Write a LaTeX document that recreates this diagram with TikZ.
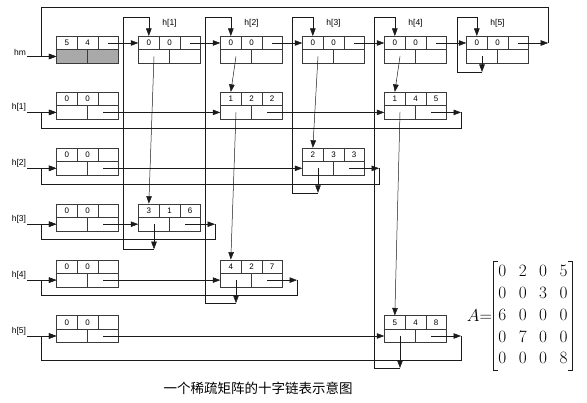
\documentclass[tikz,border=0pt]{standalone}
\usepackage{amsmath}
\usepackage{fontspec}
\setmainfont{Liberation Serif}
\setsansfont{Liberation Sans}
\newfontfamily\cjk{Noto Sans CJK SC}
\usepackage{tikz}
\usetikzlibrary{arrows.meta, calc, backgrounds}

\definecolor{linkline}{HTML}{1a1a1a}
\definecolor{boxline}{HTML}{3a3a3a}
\definecolor{hmshade}{HTML}{a9a9a9}

% one record of the orthogonal list: name, x, y, three upper fields
\newcommand\olnode[6]{%
  \node[rec] (#1) at (#2,#3) {};
  \draw[recline] (#1.west) -- (#1.east);
  \draw[recline] ($(#1.north west)+(\fieldW,0)$) -- ($(#1.west)+(\fieldW,0)$);
  \draw[recline] ($(#1.north east)+(-\fieldW,0)$) -- ($(#1.east)+(-\fieldW,0)$);
  \draw[recline] (#1.center) -- (#1.south);
  \node[field] at ($(#1.center)+(-\fieldW,-\rowHalf)$) {#4};
  \node[field] at ($(#1.center)+(0,-\rowHalf)$)        {#5};
  \node[field] at ($(#1.center)+(\fieldW,-\rowHalf)$)  {#6};
  \coordinate (#1-in) at ($(#1.north)+(-\fieldW,0)$);
  \coordinate (#1-dn) at ($(#1.center)+(-\halfW,\rowHalf)$);
  \coordinate (#1-rt) at ($(#1.center)+(\halfW,\rowHalf)$);
  \coordinate (#1-nx) at ($(#1.center)+(\fieldW,-\rowHalf)$);
  \coordinate (#1-lt) at ($(#1.west)+(0,-\rowHalf)$);
  \coordinate (#1-lb) at ($(#1.west)+(0,\rowHalf)$);
}

\begin{document}
\begin{tikzpicture}[
    x=1pt, y=-1pt,
    rec/.style={
        rectangle, draw=boxline, line width=0.5pt,
        minimum width=62pt, minimum height=27pt, inner sep=0pt,
    },
    recline/.style={draw=boxline, line width=0.5pt},
    field/.style={inner sep=0pt, font=\fontsize{8}{9}\selectfont\sffamily},
    lbl/.style={inner sep=1pt, font=\fontsize{8.5}{10}\selectfont\sffamily},
    ptr/.style={
        draw=linkline, line width=0.5pt,
        -{Triangle[length=7.5pt,width=5.5pt]},
    },
    matfont/.style={font=\fontsize{17}{21.7}\selectfont},
    bracket/.style={draw=linkline, line width=0.8pt},
    caption/.style={inner sep=0pt, font=\fontsize{13.5}{15}\selectfont\cjk},
]
\useasboundingbox (0,0) rectangle (587,403);

% ── Grid of the records ─────────────────────────────────────────────────────
\def\colX{87.5}
\def\colW{82}
\def\rowY{49.75}
\def\rowH{55.9}
\def\fieldW{20.67}
\def\halfW{15.5}
\def\rowHalf{6.75}

% ── Column heads ────────────────────────────────────────────────────────────
\olnode{hm}{\colX}{\rowY}{5}{4}{}
\olnode{h1}{\colX+1*\colW}{\rowY}{0}{0}{}
\olnode{h2}{\colX+2*\colW}{\rowY}{0}{0}{}
\olnode{h3}{\colX+3*\colW}{\rowY}{0}{0}{}
\olnode{h4}{\colX+4*\colW}{\rowY}{0}{0}{}
\olnode{h5}{\colX+5*\colW}{\rowY}{0}{0}{}

\node[lbl] (lh1) at ($(h1.north)+(0,-12.5)$) {h[1]};
\node[lbl] (lh2) at ($(h2.north)+(0,-12.5)$) {h[2]};
\node[lbl] (lh3) at ($(h3.north)+(0,-12.5)$) {h[3]};
\node[lbl] (lh4) at ($(h4.north)+(0,-12.5)$) {h[4]};
\node[lbl] (lh5) at ($(h5.north)+(0,-12.5)$) {h[5]};

% ── Row heads ───────────────────────────────────────────────────────────────
\olnode{r1}{\colX}{\rowY+1*\rowH}{0}{0}{}
\olnode{r2}{\colX}{\rowY+2*\rowH}{0}{0}{}
\olnode{r3}{\colX}{\rowY+3*\rowH}{0}{0}{}
\olnode{r4}{\colX}{\rowY+4*\rowH}{0}{0}{}
\olnode{r5}{\colX}{\rowY+5*\rowH}{0}{0}{}

\node[lbl, anchor=south east] (lhm) at ($(hm-lb)+(-29,0)$) {hm};
\node[lbl, anchor=south east] (lr1) at ($(r1-lb)+(-29,0)$) {h[1]};
\node[lbl, anchor=south east] (lr2) at ($(r2-lb)+(-29,0)$) {h[2]};
\node[lbl, anchor=south east] (lr3) at ($(r3-lb)+(-29,0)$) {h[3]};
\node[lbl, anchor=south east] (lr4) at ($(r4-lb)+(-29,0)$) {h[4]};
\node[lbl, anchor=south east] (lr5) at ($(r5-lb)+(-29,0)$) {h[5]};

% ── Non-zero elements ───────────────────────────────────────────────────────
\olnode{e12}{\colX+2*\colW}{\rowY+1*\rowH}{1}{2}{2}
\olnode{e14}{\colX+4*\colW}{\rowY+1*\rowH}{1}{4}{5}
\olnode{e23}{\colX+3*\colW}{\rowY+2*\rowH}{2}{3}{3}
\olnode{e31}{\colX+1*\colW}{\rowY+3*\rowH}{3}{1}{6}
\olnode{e42}{\colX+2*\colW}{\rowY+4*\rowH}{4}{2}{7}
\olnode{e54}{\colX+4*\colW}{\rowY+5*\rowH}{5}{4}{8}

\begin{scope}[on background layer]
    \fill[white] (0,0) rectangle (587,403);
    \fill[hmshade] (hm.west) rectangle (hm.south east);
\end{scope}

% ── Corners of the return loops ─────────────────────────────────────────────
\coordinate (q0) at ($(hm.north west)+(-15.5,-29)$);
\coordinate (q1) at ($(r1.south west)+(-15.5,8.5)$);
\coordinate (q2) at ($(r2.south west)+(-15.5,8.5)$);
\coordinate (q3) at ($(r3.south west)+(-15.5,8.5)$);
\coordinate (q4) at ($(r4.south west)+(-15.5,8.5)$);
\coordinate (q5) at ($(r5.south west)+(-15.5,17.5)$);

\coordinate (k1) at ($(h1.north west)+(-15,-19)$);
\coordinate (k2) at ($(h2.north west)+(-15.5,-19)$);
\coordinate (k3) at ($(h3.north west)+(-10.5,-19)$);
\coordinate (k4) at ($(h4.north west)+(-10,-19)$);
\coordinate (k5) at ($(h5.north west)+(-9.5,-19)$);

% ── Entry pointers ──────────────────────────────────────────────────────────
\draw[ptr] (lhm.south east) -- (hm-lb);
\draw[ptr] (lr1.south east) -- (r1-lb);
\draw[ptr] (lr2.south east) -- (r2-lb);
\draw[ptr] (lr3.south east) -- (r3-lb);
\draw[ptr] (lr4.south east) -- (r4-lb);
\draw[ptr] (lr5.south east) -- (r5-lb);

% ── Chain of the heads ──────────────────────────────────────────────────────
\draw[ptr] (hm-nx) -- (h1-lt);
\draw[ptr] (h1-nx) -- (h2-lt);
\draw[ptr] (h2-nx) -- (h3-lt);
\draw[ptr] (h3-nx) -- (h4-lt);
\draw[ptr] (h4-nx) -- (h5-lt);
\draw[ptr] (h5-nx) -- ++(30,0) coordinate (hmback);
\draw[ptr] (hmback) |- (q0) |- (hm-lb);

% ── Down links (columns) ────────────────────────────────────────────────────
\draw[ptr] (h1-dn)  -- (e31-in);
\draw[ptr] (h2-dn)  -- (e12-in);
\draw[ptr] (e12-dn) -- (e42-in);
\draw[ptr] (h3-dn)  -- (e23-in);
\draw[ptr] (h4-dn)  -- (e14-in);
\draw[ptr] (e14-dn) -- (e54-in);

\draw[ptr] (e31-dn) -- ++(0,25) coordinate (c1back);
\draw[ptr] (c1back) -| (k1) -| (h1-in);
\draw[ptr] (e42-dn) -- ++(0,23) coordinate (c2back);
\draw[ptr] (c2back) -| (k2) -| (h2-in);
\draw[ptr] (e23-dn) -- ++(0,24.5) coordinate (c3back);
\draw[ptr] (c3back) -| (k3) -| (h3-in);
\draw[ptr] (e54-dn) -- ++(0,32) coordinate (c4back);
\draw[ptr] (c4back) -| (k4) -| (h4-in);
\draw[ptr] (h5-dn)  -- ++(0,15.5) coordinate (c5back);
\draw[ptr] (c5back) -| (k5) -| (h5-in);

% ── Right links (rows) ──────────────────────────────────────────────────────
\draw[ptr] (r1-rt)  -- (e12-lb);
\draw[ptr] (e12-rt) -- (e14-lb);
\draw[ptr] (e14-rt) -- ++(30,0) coordinate (r1back);
\draw[ptr] (r1back) |- (q1) |- (r1-lb);

\draw[ptr] (r2-rt)  -- (e23-lb);
\draw[ptr] (e23-rt) -- ++(30,0) coordinate (r2back);
\draw[ptr] (r2back) |- (q2) |- (r2-lb);

\draw[ptr] (r3-rt)  -- (e31-lb);
\draw[ptr] (e31-rt) -- ++(30,0) coordinate (r3back);
\draw[ptr] (r3back) |- (q3) |- (r3-lb);

\draw[ptr] (r4-rt)  -- (e42-lb);
\draw[ptr] (e42-rt) -- ++(30,0) coordinate (r4back);
\draw[ptr] (r4back) |- (q4) |- (r4-lb);

\draw[ptr] (r5-rt)  -- (e54-lb);
\draw[ptr] (e54-rt) -- ++(30,0) coordinate (r5back);
\draw[ptr] (r5back) |- (q5) |- (r5-lb);

% ── Matrix and caption ──────────────────────────────────────────────────────
\node[matfont, inner xsep=4.5pt, inner ysep=0pt] (mA) at (533,316)
    {\setlength\arraycolsep{6.25pt}%
    $\begin{matrix}
        0 & 2 & 0 & 5\\
        0 & 0 & 3 & 0\\
        6 & 0 & 0 & 0\\
        0 & 7 & 0 & 0\\
        0 & 0 & 0 & 8
    \end{matrix}$};
\draw[bracket] ($(mA.north west)+(4,0)$) -- (mA.north west)
    -- (mA.south west) -- ++(4,0);
\draw[bracket] ($(mA.north east)+(-4,0)$) -- (mA.north east)
    -- (mA.south east) -- ++(-4,0);
\node[matfont, inner sep=0pt, anchor=east] (lA) at ($(mA.west)+(-1.5,0)$) {$A{=}$};

\node[caption] (cap) at (258,388) {一个稀疏矩阵的十字链表示意图};

\end{tikzpicture}
\end{document}
